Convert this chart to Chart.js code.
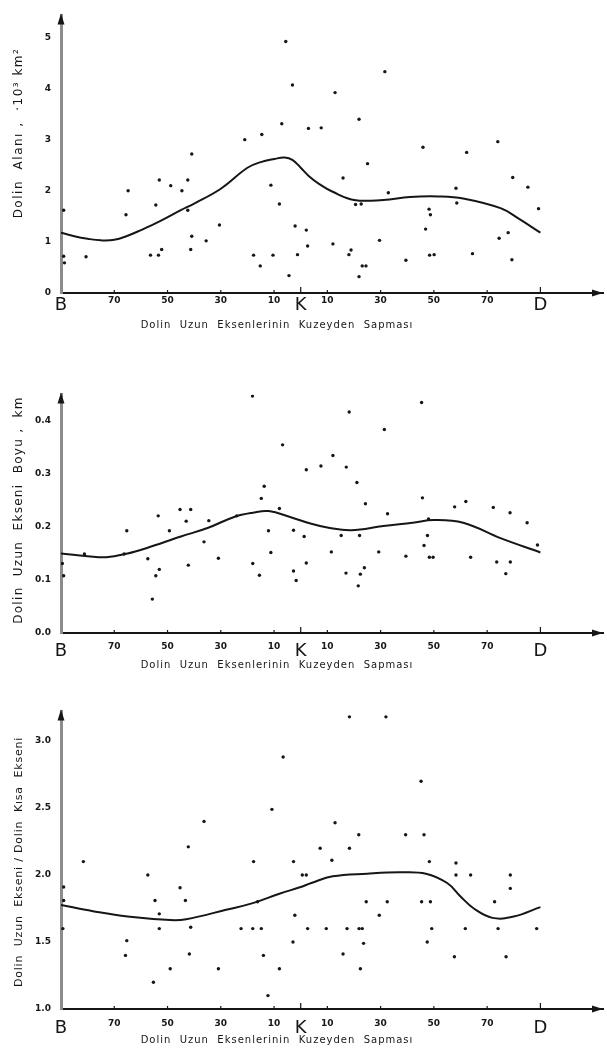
<!DOCTYPE html>
<html lang="tr">
  <head>
    <meta charset="UTF-8" />
    <title>Dolin Uzun Eksenlerinin Kuzeyden Sapması</title>
    <script src="https://cdn.jsdelivr.net/npm/chart.js"></script>
    <style>
      body {
        margin: 0;
        background: #fff;
      }
      #page {
        position: relative;
        width: 607px;
        height: 1055px;
      }
      .panel {
        position: absolute;
        left: 0;
      }
    </style>
  </head>

  <body>
    <div id="page">
      <div class="panel" style="top: 0px"><canvas id="alanChart" width="607" height="345"></canvas></div>
      <div class="panel" style="top: 345px"><canvas id="boyuChart" width="607" height="345"></canvas></div>
      <div class="panel" style="top: 690px"><canvas id="oranChart" width="607" height="365"></canvas></div>
    </div>

    <script>
      // x axis: deviation from north, B (-90) .. K (0) .. D (+90)
      const xTickValues = [-90, -70, -50, -30, -10, 0, 10, 30, 50, 70, 90];
      const xTickLabels = ["B", "70", "50", "30", "10", "K", "10", "30", "50", "70", "D"];
      const xTitle = "Dolin  Uzun  Eksenlerinin  Kuzeyden  Sapması";

      // panel 1 - dolin alanı
      const alanTicks = [0, 1, 2, 3, 4, 5];
      const alanTickLabels = ["0", "1", "2", "3", "4", "5"];
      const alanX = [-89, -89, -88.7, -80.6, -65.6, -64.8, -54.4, -56.4, -53.4, -53.1, -52.2, -48.8, -44.6, -42.4, -42.4, -40.9, -40.9, -41.3, -35.5, -30.5, -21, -17.7, -14.6, -15.2, -11.2, -10.4, -8, -7.1, -5.6, -4.4, -3.1, -2.1, -1.2, 2.1, 2.6, 2.9, 7.7, 12.9, 12.1, 15.9, 18.1, 18.9, 20.6, 22.7, 21.9, 21.9, 23.1, 24.5, 25.1, 29.6, 31.6, 32.9, 39.5, 45.9, 46.9, 48.2, 48.7, 48.4, 50.1, 58.3, 58.6, 62.3, 64.5, 74, 74.5, 77.9, 79.6, 79.3, 85.3, 89.3];
      const alanY = [1.62, 0.72, 0.59, 0.71, 1.53, 2.0, 1.72, 0.74, 0.74, 2.21, 0.85, 2.1, 2.0, 2.21, 1.62, 2.72, 1.11, 0.85, 1.02, 1.33, 3.0, 0.74, 3.1, 0.53, 2.11, 0.74, 1.74, 3.31, 4.92, 0.34, 4.07, 1.31, 0.75, 1.23, 0.92, 3.22, 3.23, 3.92, 0.96, 2.25, 0.75, 0.84, 1.73, 1.74, 3.4, 0.32, 0.53, 0.53, 2.53, 1.03, 4.33, 1.96, 0.64, 2.85, 1.25, 1.64, 1.53, 0.74, 0.75, 2.05, 1.76, 2.75, 0.77, 2.96, 1.07, 1.18, 2.26, 0.65, 2.07, 1.65];
      const alanCurveX = [-90, -85, -80, -75, -70, -65, -60, -53, -45, -40, -30, -20, -15, -10, -6, -3, 0, 3, 7, 12, 20, 31, 41, 52, 61, 75, 82, 90];
      const alanCurveY = [1.18, 1.11, 1.06, 1.03, 1.04, 1.12, 1.23, 1.4, 1.62, 1.75, 2.04, 2.45, 2.56, 2.62, 2.65, 2.6, 2.45, 2.29, 2.13, 1.98, 1.82, 1.82, 1.88, 1.89, 1.85, 1.66, 1.45, 1.18];

      // panel 2 - dolin uzun ekseni boyu
      const boyuTicks = [0, 0.1, 0.2, 0.3, 0.4];
      const boyuTickLabels = ["0.0", "0.1", "0.2", "0.3", "0.4"];
      const boyuX = [-89, -89.5, -81.2, -66.3, -65.3, -57.4, -53.5, -54.4, -53.1, -55.7, -49.3, -45.3, -43, -41.3, -42.2, -36.3, -34.5, -30.9, -24, -18.1, -14.8, -13.7, -18, -15.5, -8, -6.8, -12.1, -11.2, -2.7, -2.7, -1.7, 1.3, 2.1, 2.1, 7.6, 12.1, 18.2, 17.1, 21.1, 24.3, 11.5, 15.2, 22.1, 17, 22.4, 23.9, 21.6, 31.4, 32.6, 29.3, 39.5, 45.4, 45.7, 48, 47.6, 46.3, 48.3, 49.7, 57.8, 62, 63.8, 72.3, 73.6, 77, 78.6, 78.7, 85, 88.9];
      const boyuY = [0.108, 0.131, 0.149, 0.149, 0.193, 0.14, 0.221, 0.108, 0.12, 0.064, 0.193, 0.233, 0.211, 0.233, 0.128, 0.172, 0.212, 0.141, 0.221, 0.447, 0.254, 0.277, 0.131, 0.109, 0.235, 0.355, 0.193, 0.152, 0.194, 0.117, 0.099, 0.182, 0.132, 0.308, 0.315, 0.335, 0.417, 0.313, 0.284, 0.244, 0.153, 0.184, 0.184, 0.113, 0.111, 0.123, 0.089, 0.384, 0.225, 0.153, 0.145, 0.435, 0.255, 0.215, 0.184, 0.165, 0.143, 0.143, 0.238, 0.248, 0.143, 0.237, 0.134, 0.112, 0.227, 0.134, 0.208, 0.166];
      const boyuCurveX = [-90, -80, -73, -65, -58, -45, -35, -25, -18, -12, -4, 4, 10, 19, 31, 42, 50, 61, 75, 90];
      const boyuCurveY = [0.15, 0.145, 0.143, 0.15, 0.16, 0.182, 0.198, 0.219, 0.227, 0.23, 0.219, 0.206, 0.199, 0.194, 0.202, 0.208, 0.213, 0.208, 0.179, 0.152];

      // panel 3 - uzun eksen / kısa eksen
      const oranTicks = [1.0, 1.5, 2.0, 2.5, 3.0];
      const oranTickLabels = ["1.0", "1.5", "2.0", "2.5", "3.0"];
      const oranX = [-89, -89, -89.3, -81.6, -65.3, -65.8, -57.4, -54.7, -53.1, -53.1, -55.3, -49, -45.3, -43.3, -42.2, -41.3, -41.8, -36.3, -30.9, -22.4, -18, -17.7, -16.2, -14.8, -14, -12.3, -10.8, -8, -6.6, -2.7, -2.2, -2.9, 0.6, 2.1, 2.6, 18.3, 32, 45.2, 12.9, 21.8, 39.4, 46.3, 7.3, 18.3, 11.7, 48.3, 58.3, 58.3, 63.8, 78.7, 78.7, 24.6, 32.5, 45.4, 48.7, 72.8, 29.5, 9.6, 17.4, 21.9, 23.1, 49.2, 61.8, 74.1, 88.6, 23.6, 47.5, 15.9, 57.7, 77.1, 22.4];
      const oranY = [1.91, 1.81, 1.6, 2.1, 1.51, 1.4, 2.0, 1.81, 1.71, 1.6, 1.2, 1.3, 1.905, 1.81, 2.21, 1.61, 1.41, 2.4, 1.3, 1.6, 1.6, 2.1, 1.8, 1.6, 1.4, 1.1, 2.49, 1.3, 2.88, 2.1, 1.7, 1.5, 2.0, 2.0, 1.6, 3.18, 3.18, 2.7, 2.39, 2.3, 2.3, 2.3, 2.2, 2.2, 2.11, 2.1, 2.09, 2.0, 2.0, 2.0, 1.9, 1.8, 1.8, 1.8, 1.8, 1.8, 1.7, 1.6, 1.6, 1.6, 1.6, 1.6, 1.6, 1.6, 1.6, 1.49, 1.5, 1.41, 1.39, 1.39, 1.3];
      const oranCurveX = [-90, -78, -65, -49, -43, -28, -18, -8, 0, 4, 12, 25, 37, 47, 55, 60, 65, 72, 80, 90];
      const oranCurveY = [1.776, 1.73, 1.69, 1.664, 1.67, 1.74, 1.79, 1.86, 1.91, 1.94, 1.99, 2.01, 2.02, 2.01, 1.94, 1.84, 1.75, 1.68, 1.69, 1.76];

      const ink = "#161616";
      const font = "'DejaVu Sans', sans-serif";

      // arrow heads, small x tick marks and the spaced-out axis titles
      const axisDecor = {
        id: "axisDecor",
        afterDraw(chart, args, opts) {
          const { ctx, chartArea: a, scales } = chart;
          ctx.save();
          ctx.fillStyle = ink;
          ctx.strokeStyle = ink;
          ctx.lineWidth = 1.2;
          ctx.beginPath();
          ctx.moveTo(a.right, a.bottom);
          ctx.lineTo(a.right - 11, a.bottom - 3.5);
          ctx.lineTo(a.right - 11, a.bottom + 3.5);
          ctx.closePath();
          ctx.fill();
          ctx.beginPath();
          ctx.moveTo(a.left, a.top - 2);
          ctx.lineTo(a.left - 3.5, a.top + 9);
          ctx.lineTo(a.left + 3.5, a.top + 9);
          ctx.closePath();
          ctx.fill();
          ctx.beginPath();
          scales.x.ticks.forEach((t) => {
            if (t.value === -90) return;
            const px = scales.x.getPixelForValue(t.value);
            ctx.moveTo(px, a.bottom);
            ctx.lineTo(px, a.bottom - (t.value === 0 || t.value === 90 ? 6 : 3));
          });
          ctx.stroke();

          // x title
          ctx.textAlign = "center";
          ctx.textBaseline = "middle";
          ctx.font = "10px " + font;
          ctx.letterSpacing = "1px";
          ctx.fillText(xTitle, 277, a.bottom + opts.xTitleGap);

          // y title, reading bottom to top
          ctx.font = opts.yTitleSize + "px " + font;
          ctx.letterSpacing = opts.yTitleSpacing + "px";
          ctx.translate(19, opts.yTitleCenter);
          ctx.rotate(-Math.PI / 2);
          ctx.fillText(opts.yTitle, 0, 0);
          ctx.restore();
        },
      };

      function makePanel(id, cfg) {
        const points = cfg.x.map((v, i) => ({ x: v, y: cfg.y[i] }));
        const curve = cfg.curveX.map((v, i) => ({ x: v, y: cfg.curveY[i] }));
        return new Chart(document.getElementById(id).getContext("2d"), {
          type: "scatter",
          data: {
            datasets: [
              {
                label: "dolinler",
                data: points,
                backgroundColor: ink,
                borderWidth: 0,
                pointRadius: 1.7,
              },
              {
                label: "eğri",
                data: curve,
                showLine: true,
                borderColor: ink,
                borderWidth: 2,
                pointRadius: 0,
                tension: 0.4,
              },
            ],
          },
          options: {
            responsive: false,
            animation: false,
            layout: { padding: { top: cfg.padTop, left: 0, right: 0, bottom: 0 } },
            plugins: {
              legend: { display: false },
              tooltip: { enabled: false },
              axisDecor: {
                xTitleGap: cfg.xTitleGap,
                yTitle: cfg.yTitle,
                yTitleSize: cfg.yTitleSize,
                yTitleSpacing: cfg.yTitleSpacing,
                yTitleCenter: cfg.yTitleCenter,
              },
            },
            scales: {
              x: {
                type: "linear",
                min: -90,
                max: 113.5,
                afterFit: (s) => { s.height = cfg.xHeight; },
                afterBuildTicks: (s) => { s.ticks = xTickValues.map((v) => ({ value: v })); },
                grid: { display: false, drawTicks: false },
                border: { color: ink, width: 2 },
                ticks: {
                  padding: cfg.xPad,
                  color: ink,
                  autoSkip: false,
                  maxRotation: 0,
                  callback: (v) => xTickLabels[xTickValues.indexOf(v)],
                  font: (c) => {
                    const big = c.tick && [-90, 0, 90].includes(c.tick.value);
                    return { family: font, size: big ? 18 : 9, weight: big ? "normal" : "bold" };
                  },
                },
              },
              y: {
                min: cfg.min,
                max: cfg.max,
                afterFit: (s) => { s.width = 61; },
                afterBuildTicks: (s) => { s.ticks = cfg.ticks.map((v) => ({ value: v })); },
                grid: { display: false, drawTicks: false },
                border: { color: "#8c8c8c", width: 3 },
                ticks: {
                  padding: 10,
                  color: ink,
                  callback: (v) => cfg.tickLabels[cfg.ticks.indexOf(v)],
                  font: { family: font, size: 9, weight: "bold" },
                },
              },
            },
          },
          plugins: [axisDecor],
        });
      }

      makePanel("alanChart", {
        x: alanX, y: alanY, curveX: alanCurveX, curveY: alanCurveY,
        min: 0, max: 5.43, ticks: alanTicks, tickLabels: alanTickLabels,
        yTitle: "Dolin  Alanı ,  ·10³ km²", yTitleSize: 12, yTitleSpacing: 1.5, yTitleCenter: 133,
        padTop: 5, xHeight: 52, xPad: 2, xTitleGap: 32,
      });

      makePanel("boyuChart", {
        x: boyuX, y: boyuY, curveX: boyuCurveX, curveY: boyuCurveY,
        min: 0, max: 0.45, ticks: boyuTicks, tickLabels: boyuTickLabels,
        yTitle: "Dolin  Uzun  Ekseni  Boyu ,  km", yTitleSize: 12, yTitleSpacing: 1.3, yTitleCenter: 165,
        padTop: 49.5, xHeight: 57, xPad: 8, xTitleGap: 32,
      });

      makePanel("oranChart", {
        x: oranX, y: oranY, curveX: oranCurveX, curveY: oranCurveY,
        min: 1.0, max: 3.22, ticks: oranTicks, tickLabels: oranTickLabels,
        yTitle: "Dolin  Uzun  Ekseni / Dolin  Kısa  Ekseni", yTitleSize: 11, yTitleSpacing: 0.8, yTitleCenter: 172,
        padTop: 21.5, xHeight: 46, xPad: 9, xTitleGap: 31,
      });
    </script>
  </body>
</html>
